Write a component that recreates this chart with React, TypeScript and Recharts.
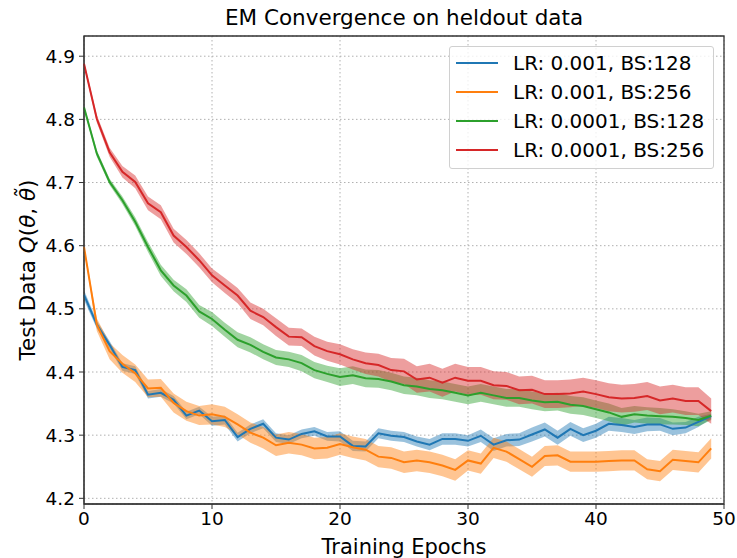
import React from 'react';
import { ComposedChart, Line, Area, XAxis, YAxis, CartesianGrid, ReferenceArea } from 'recharts';

const seriesNames = ['LR: 0.001, BS:128', 'LR: 0.001, BS:256', 'LR: 0.0001, BS:128', 'LR: 0.0001, BS:256'];
const colors = ['#1f77b4', '#ff7f0e', '#2ca02c', '#d62728'];
const xTicks = [0, 10, 20, 30, 40, 50];
const yTicks = [4.2, 4.3, 4.4, 4.5, 4.6, 4.7, 4.8, 4.9];

const blueMean = [4.522, 4.475, 4.443, 4.408, 4.403, 4.364, 4.367, 4.356, 4.331, 4.339,
  4.322, 4.324, 4.297, 4.310, 4.318, 4.296, 4.293, 4.302, 4.306, 4.298,
  4.298, 4.283, 4.282, 4.303, 4.299, 4.297, 4.290, 4.285, 4.294, 4.294,
  4.291, 4.299, 4.285, 4.292, 4.293, 4.301, 4.309, 4.296, 4.310, 4.300,
  4.307, 4.318, 4.316, 4.313, 4.317, 4.317, 4.310, 4.312, 4.321, 4.330];
const blueStd = [0.008, 0.006, 0.006, 0.006, 0.006, 0.006, 0.006, 0.006, 0.006, 0.006,
  0.007, 0.007, 0.007, 0.007, 0.007, 0.007, 0.007, 0.007, 0.007, 0.007,
  0.008, 0.008, 0.008, 0.008, 0.008, 0.008, 0.008, 0.009, 0.009, 0.009,
  0.009, 0.010, 0.010, 0.010, 0.010, 0.011, 0.011, 0.011, 0.011, 0.011,
  0.011, 0.011, 0.011, 0.011, 0.011, 0.010, 0.010, 0.009, 0.008, 0.004];

const orangeMean = [4.598, 4.475, 4.433, 4.413, 4.398, 4.374, 4.375, 4.351, 4.338, 4.331,
  4.333, 4.329, 4.317, 4.304, 4.296, 4.284, 4.288, 4.285, 4.279, 4.280,
  4.286, 4.281, 4.277, 4.266, 4.264, 4.257, 4.260, 4.257, 4.252, 4.245,
  4.260, 4.255, 4.280, 4.274, 4.262, 4.250, 4.267, 4.268, 4.258, 4.258,
  4.258, 4.259, 4.260, 4.260, 4.246, 4.243, 4.261, 4.259, 4.257, 4.279];
const orangeStd = [0.003, 0.010, 0.013, 0.014, 0.014, 0.014, 0.014, 0.015, 0.015, 0.015,
  0.016, 0.016, 0.016, 0.016, 0.017, 0.017, 0.017, 0.017, 0.017, 0.017,
  0.017, 0.017, 0.017, 0.017, 0.017, 0.017, 0.017, 0.017, 0.017, 0.017,
  0.016, 0.016, 0.016, 0.016, 0.016, 0.016, 0.016, 0.016, 0.016, 0.016,
  0.016, 0.016, 0.016, 0.016, 0.016, 0.016, 0.016, 0.016, 0.016, 0.016];

const greenMean = [4.819, 4.746, 4.701, 4.672, 4.638, 4.598, 4.561, 4.537, 4.521, 4.496,
  4.484, 4.467, 4.451, 4.443, 4.432, 4.423, 4.420, 4.414, 4.403, 4.397,
  4.392, 4.395, 4.390, 4.389, 4.385, 4.379, 4.377, 4.373, 4.371, 4.367,
  4.363, 4.367, 4.363, 4.359, 4.359, 4.355, 4.352, 4.353, 4.348, 4.346,
  4.341, 4.336, 4.329, 4.333, 4.331, 4.330, 4.329, 4.327, 4.324, 4.331];
const greenStd = [0.003, 0.005, 0.005, 0.006, 0.007, 0.008, 0.009, 0.009, 0.010, 0.010,
  0.011, 0.011, 0.012, 0.012, 0.012, 0.012, 0.012, 0.013, 0.013, 0.013,
  0.014, 0.014, 0.014, 0.014, 0.014, 0.014, 0.014, 0.014, 0.014, 0.014,
  0.014, 0.014, 0.014, 0.014, 0.014, 0.014, 0.014, 0.014, 0.014, 0.014,
  0.014, 0.014, 0.014, 0.013, 0.013, 0.013, 0.012, 0.011, 0.010, 0.007];

const redMean = [4.888, 4.801, 4.748, 4.717, 4.701, 4.667, 4.653, 4.616, 4.598, 4.577,
  4.553, 4.537, 4.521, 4.497, 4.487, 4.471, 4.456, 4.455, 4.441, 4.433,
  4.428, 4.420, 4.414, 4.411, 4.403, 4.401, 4.388, 4.391, 4.383, 4.391,
  4.386, 4.386, 4.379, 4.378, 4.371, 4.372, 4.365, 4.365, 4.366, 4.369,
  4.365, 4.360, 4.358, 4.359, 4.362, 4.355, 4.358, 4.354, 4.354, 4.338];
const redStd = [0.004, 0.006, 0.007, 0.009, 0.010, 0.011, 0.011, 0.011, 0.011, 0.011,
  0.011, 0.012, 0.012, 0.013, 0.013, 0.014, 0.014, 0.014, 0.015, 0.015,
  0.016, 0.016, 0.017, 0.018, 0.019, 0.020, 0.021, 0.022, 0.022, 0.022,
  0.022, 0.022, 0.022, 0.022, 0.022, 0.022, 0.022, 0.022, 0.022, 0.022,
  0.022, 0.022, 0.022, 0.022, 0.022, 0.022, 0.022, 0.022, 0.022, 0.020];

const means = [blueMean, orangeMean, greenMean, redMean];
const stds = [blueStd, orangeStd, greenStd, redStd];

const data = blueMean.map((_, i) => {
  const row: any = { epoch: i };
  means.forEach((m, s) => {
    row['m' + s] = m[i];
    row['b' + s] = [m[i] - stds[s][i], m[i] + stds[s][i]];
  });
  return row;
});

const FONT = 'DejaVu Sans, sans-serif';
const Y_MIN = 4.191;
const Y_MAX = 4.932;

const YLabel = () => (
  <text x={35} y={270} transform="rotate(-90 35 270)" textAnchor="middle" fontFamily={FONT} fontSize={21.5} fill="#000">
    Test Data <tspan fontStyle="italic">Q</tspan>(<tspan fontStyle="italic">θ</tspan>, <tspan fontStyle="italic">θ̃</tspan>)
  </text>
);

const XLabel = () => (
  <text x={404} y={554} textAnchor="middle" fontFamily={FONT} fontSize={21} fill="#000">
    Training Epochs
  </text>
);

export default function App() {
  return (
    <div style={{ position: 'absolute', left: 0, top: 0, width: 737, height: 558, background: '#fff' }}>
      <ComposedChart width={737} height={558} data={data} margin={{ top: 36, right: 13, left: 0, bottom: 0 }}>
        <CartesianGrid stroke="#b0b0b0" strokeDasharray="1.5 2.5" strokeWidth={1} />
        <XAxis
          dataKey="epoch"
          type="number"
          domain={[0, 50]}
          ticks={xTicks}
          height={54}
          tickSize={5}
          tickMargin={3}
          stroke="#333"
          tick={{ fontFamily: FONT, fontSize: 18.5, fill: '#000' }}
          label={{ content: () => <XLabel /> }}
        />
        <YAxis
          type="number"
          domain={[Y_MIN, Y_MAX]}
          allowDataOverflow
          ticks={yTicks}
          width={84}
          tickSize={5}
          tickMargin={4}
          stroke="#333"
          tickFormatter={(v: number) => v.toFixed(1)}
          tick={{ fontFamily: FONT, fontSize: 18.5, fill: '#000' }}
          label={{ content: () => <YLabel /> }}
        />
        {seriesNames.map((n, s) => (
          <Area
            key={'band' + s}
            dataKey={'b' + s}
            type="linear"
            stroke="none"
            fill={colors[s]}
            fillOpacity={0.45}
            isAnimationActive={false}
            legendType="none"
          />
        ))}
        {seriesNames.map((n, s) => (
          <Line
            key={'line' + s}
            dataKey={'m' + s}
            name={n}
            type="linear"
            stroke={colors[s]}
            strokeWidth={2}
            dot={false}
            activeDot={false}
            isAnimationActive={false}
          />
        ))}
        <ReferenceArea x1={0} x2={50} y1={Y_MIN} y2={Y_MAX} fill="none" stroke="#333" strokeWidth={1.3} />
      </ComposedChart>
      <div style={{ position: 'absolute', left: 0, top: 5, width: 808, textAlign: 'center', fontFamily: FONT, fontSize: 21.5, color: '#000' }}>
        EM Convergence on heldout data
      </div>
      <div style={{ position: 'absolute', left: 449, top: 46, width: 263, height: 121, border: '1px solid #d0d0d0', borderRadius: 3, background: 'rgba(255,255,255,0.8)' }}>
        {seriesNames.map((n, s) => (
          <div key={n} style={{ position: 'absolute', left: 0, top: 3 + s * 29, height: 26, display: 'flex', alignItems: 'center' }}>
            <div style={{ marginLeft: 6, width: 42, height: 2, background: colors[s] }} />
            <span style={{ marginLeft: 15, fontFamily: FONT, fontSize: 20, color: '#000', whiteSpace: 'nowrap' }}>{n}</span>
          </div>
        ))}
      </div>
    </div>
  );
}
